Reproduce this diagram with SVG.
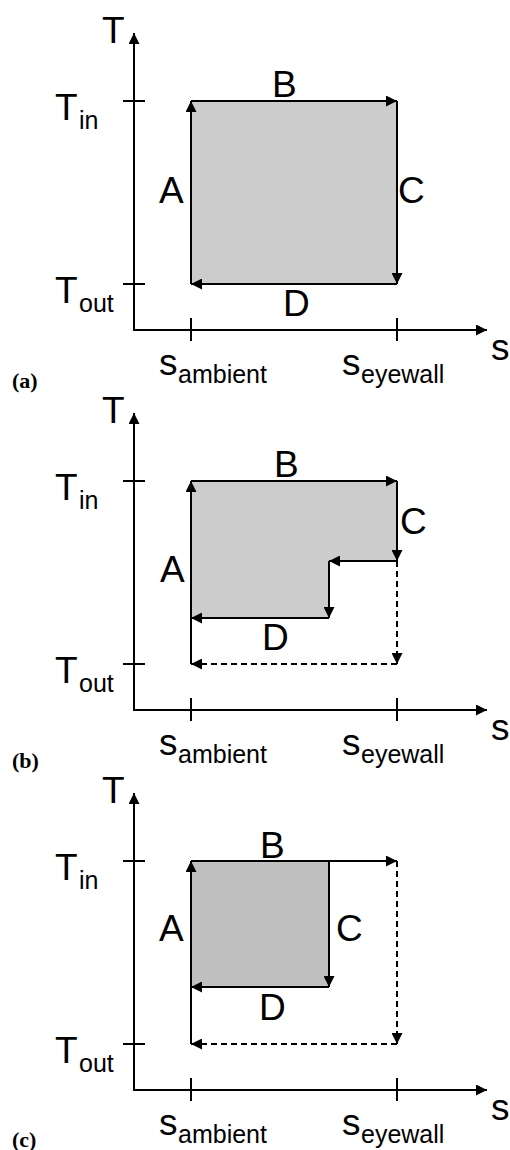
<svg xmlns="http://www.w3.org/2000/svg" width="510" height="1150" viewBox="0 0 510 1150">
<style>
.ln{stroke:#000;stroke-width:2;fill:none}
.ds{stroke:#000;stroke-width:2;fill:none;stroke-dasharray:6,4}
.ar{marker-end:url(#ah)}
.big{font-family:"Liberation Sans",Arial,sans-serif;font-size:37px;fill:#000}
.sub{font-family:"Liberation Sans",Arial,sans-serif;font-size:25px;fill:#000}
.pl{font-family:"Liberation Serif","Times New Roman",serif;font-size:22px;font-weight:bold;fill:#000}
</style>
<defs>
<marker id="ah" markerUnits="userSpaceOnUse" markerWidth="11" markerHeight="11" refX="11" refY="5.5" orient="auto">
<path d="M0,0 L11,5.5 L0,11 z" fill="#000"/>
</marker>
<g id="axes">
<line class="ln ar" x1="134" y1="330" x2="134" y2="33"/>
<line class="ln ar" x1="133" y1="330" x2="487" y2="330"/>
<line class="ln" x1="123" y1="101" x2="145" y2="101"/>
<line class="ln" x1="123" y1="284" x2="145" y2="284"/>
<line class="ln" x1="191" y1="318" x2="191" y2="341"/>
<line class="ln" x1="397" y1="318" x2="397" y2="341"/>
<text class="big" x="102" y="43">T</text>
<text class="big" x="55" y="120">T</text><text class="sub" x="79" y="129">in</text>
<text class="big" x="55" y="303">T</text><text class="sub" x="79" y="312">out</text>
<text class="big" x="491" y="360">s</text>
<text class="big" x="159" y="375">s</text><text class="sub" x="178" y="383">ambient</text>
<text class="big" x="342" y="375">s</text><text class="sub" x="361" y="383">eyewall</text>
</g>
</defs>
<g id="panel-a">
<use href="#axes"/>
<rect x="191" y="101" width="206" height="183" fill="#cccccc"/>
<g id="connectors-a">
<line class="ln ar" x1="191" y1="284" x2="191" y2="101"/>
<line class="ln ar" x1="191" y1="101" x2="397" y2="101"/>
<line class="ln ar" x1="397" y1="101" x2="397" y2="284"/>
<line class="ln ar" x1="397" y1="284" x2="191" y2="284"/>
</g>
<text class="big" x="159" y="203">A</text>
<text class="big" x="272" y="97">B</text>
<text class="big" x="398" y="203">C</text>
<text class="big" x="283" y="316">D</text>
<text class="pl" x="12" y="388">(a)</text>
</g>
<g id="panel-b" transform="translate(0,380)">
<use href="#axes"/>
<polygon points="191,101 397,101 397,181 329,181 329,238 191,238" fill="#cccccc"/>
<g id="connectors-b">
<line class="ln ar" x1="191" y1="284" x2="191" y2="101"/>
<line class="ln ar" x1="191" y1="101" x2="397" y2="101"/>
<line class="ln ar" x1="397" y1="101" x2="397" y2="181"/>
<line class="ln ar" x1="397" y1="181" x2="329" y2="181"/>
<line class="ln ar" x1="329" y1="181" x2="329" y2="238"/>
<line class="ln ar" x1="329" y1="238" x2="191" y2="238"/>
<line class="ds ar" x1="397" y1="181" x2="397" y2="284"/>
<line class="ds ar" x1="397" y1="284" x2="191" y2="284"/>
</g>
<text class="big" x="160" y="202">A</text>
<text class="big" x="274" y="97">B</text>
<text class="big" x="400" y="154">C</text>
<text class="big" x="262" y="270">D</text>
<text class="pl" x="12" y="388">(b)</text>
</g>
<g id="panel-c" transform="translate(0,760)">
<use href="#axes"/>
<rect x="191" y="101" width="138" height="126" fill="#c0c0c0"/>
<g id="connectors-c">
<line class="ln ar" x1="191" y1="284" x2="191" y2="101"/>
<line class="ln ar" x1="191" y1="101" x2="397" y2="101"/>
<line class="ln ar" x1="329" y1="101" x2="329" y2="227"/>
<line class="ln ar" x1="329" y1="227" x2="191" y2="227"/>
<line class="ds ar" x1="397" y1="101" x2="397" y2="284"/>
<line class="ds ar" x1="397" y1="284" x2="191" y2="284"/>
</g>
<text class="big" x="159" y="181">A</text>
<text class="big" x="260" y="98">B</text>
<text class="big" x="336" y="181">C</text>
<text class="big" x="259" y="260">D</text>
<text class="pl" x="12" y="387">(c)</text>
</g>
</svg>
